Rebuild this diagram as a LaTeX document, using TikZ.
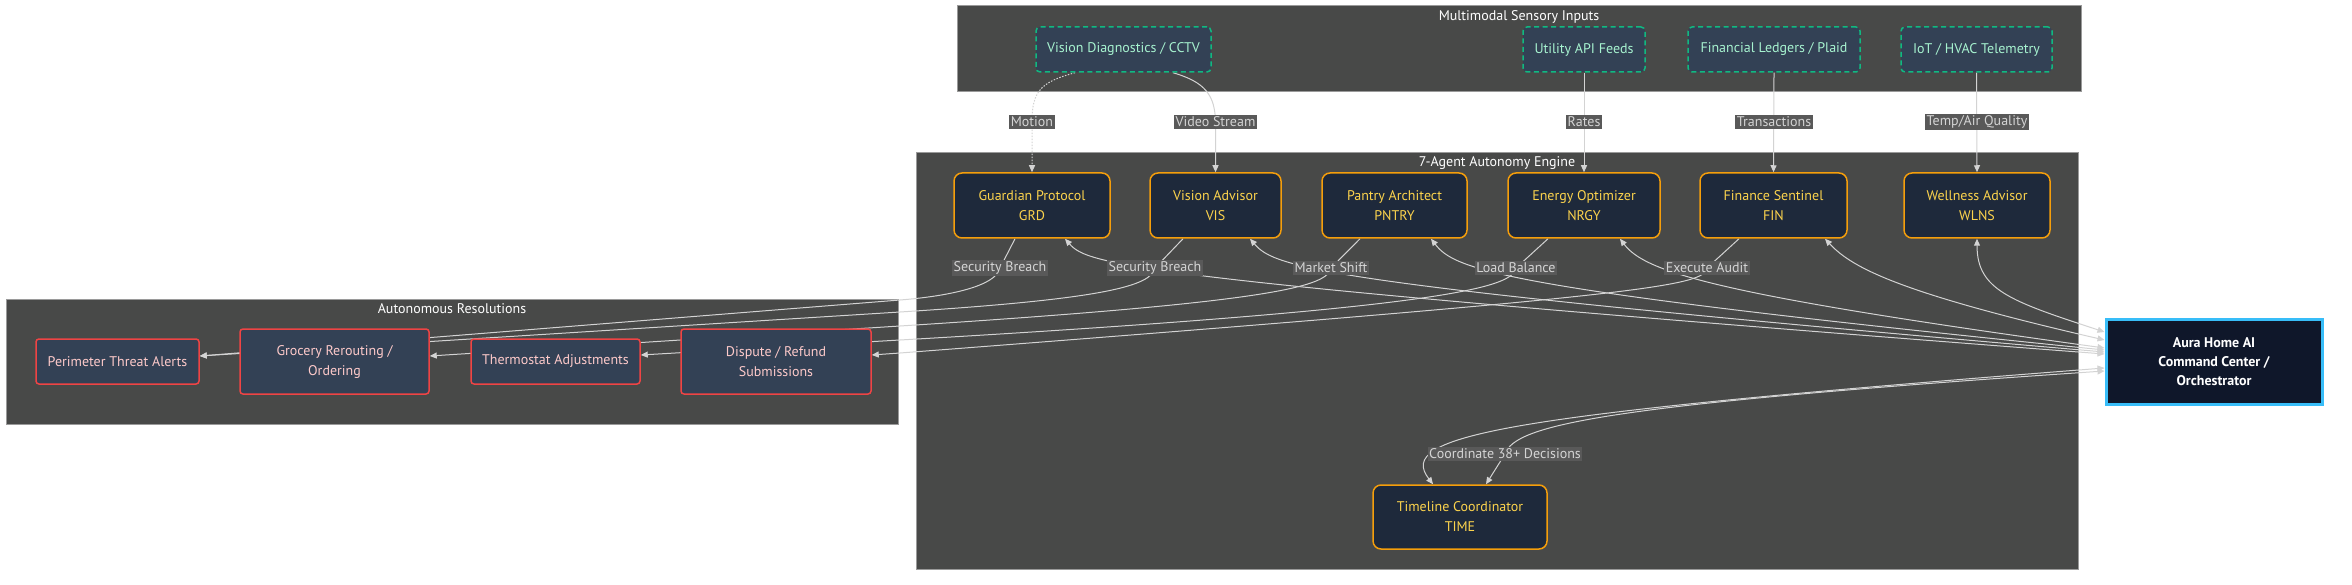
\documentclass[tikz,border=0pt]{standalone}
\usepackage{fontspec}
\setmainfont{PT Sans}
\usepackage{xcolor}
\usetikzlibrary{arrows.meta}

\definecolor{clfill}{HTML}{484948}
\definecolor{clline}{HTML}{9A9A9A}
\definecolor{snfill}{HTML}{334155}
\definecolor{snline}{HTML}{10B981}
\definecolor{sntext}{HTML}{A7F3D0}
\definecolor{agfill}{HTML}{1E293B}
\definecolor{agline}{HTML}{F59E0B}
\definecolor{agtext}{HTML}{FCD34D}
\definecolor{rsline}{HTML}{EF4444}
\definecolor{rstext}{HTML}{FECACA}
\definecolor{orfill}{HTML}{0F172A}
\definecolor{orline}{HTML}{38BDF8}
\definecolor{edgecol}{HTML}{D3D3D3}
\definecolor{lblfill}{HTML}{595959}
\definecolor{lbltext}{HTML}{D4D4D4}

\pgfdeclarelayer{back}
\pgfdeclarelayer{mid}
\pgfsetlayers{back,mid,main}

\begin{document}
\begin{tikzpicture}[x=1pt,y=-1pt,>={Triangle[length=7pt,width=6pt]},
  font=\fontsize{14}{20}\selectfont,
  cluster/.style={draw=clline,fill=clfill,line width=1pt,inner sep=0pt},
  ctitle/.style={text=white,inner sep=0pt},
  sensor/.style={draw=snline,fill=snfill,text=sntext,line width=1.5pt,
                 dash pattern=on 5pt off 3.5pt,rounded corners=4pt,
                 minimum height=45pt,inner sep=0pt},
  agent/.style={draw=agline,fill=agfill,text=agtext,line width=1.5pt,
                rounded corners=8pt,minimum height=65pt,align=center,inner sep=0pt},
  resol/.style={draw=rsline,fill=snfill,text=rstext,line width=1.5pt,
                rounded corners=3pt,align=center,inner sep=0pt},
  orchbox/.style={draw=orline,fill=orfill,text=white,line width=3pt,align=center,
                  font=\fontsize{14}{19}\selectfont\bfseries,inner sep=0pt},
  edge/.style={draw=edgecol,line width=1pt},
  dotedge/.style={dash pattern=on 1.5pt off 1.5pt},
  elab/.style={fill=lblfill,text=lbltext,inner sep=1.5pt}]

  \useasboundingbox (0,0) rectangle (2352,585);

  \begin{pgfonlayer}{back}
    \node[cluster,minimum width=1124pt,minimum height=86pt] (sens) at (1519,49) {};
    \node[cluster,minimum width=1162pt,minimum height=416pt] (engine) at (1497,361) {};
    \node[cluster,minimum width=892pt,minimum height=125pt] (resolv) at (452,361.5) {};
  \end{pgfonlayer}

  \node[ctitle] (senst) at (1519,17) {Multimodal Sensory Inputs};
  \node[ctitle] (enginet) at (1497,163) {7-Agent Autonomy Engine};
  \node[ctitle] (resolvt) at (452,309) {Autonomous Resolutions};

  \node[sensor,minimum width=175pt] (vcam) at (1123.5,49.5) {Vision Diagnostics / CCTV};
  \node[sensor,minimum width=122pt] (util) at (1584,49.5) {Utility API Feeds};
  \node[sensor,minimum width=172pt] (ledg) at (1774,49.5) {Financial Ledgers / Plaid};
  \node[sensor,minimum width=151pt] (iot) at (1976.5,49.5) {IoT / HVAC Telemetry};

  \node[agent,minimum width=156pt] (grd) at (1032,205.5) {Guardian Protocol\\GRD};
  \node[agent,minimum width=131pt] (vis) at (1215.5,205.5) {Vision Advisor\\VIS};
  \node[agent,minimum width=145pt] (pntry) at (1394.5,205.5) {Pantry Architect\\PNTRY};
  \node[agent,minimum width=152pt] (nrgy) at (1584,205.5) {Energy Optimizer\\NRGY};
  \node[agent,minimum width=147pt] (fin) at (1773.5,205.5) {Finance Sentinel\\FIN};
  \node[agent,minimum width=146pt] (wlns) at (1977,205.5) {Wellness Advisor\\WLNS};
  \node[agent,minimum width=174pt,minimum height=64pt] (time) at (1460,517) {Timeline Coordinator\\TIME};

  \node[orchbox,minimum width=216pt,minimum height=85pt] (orch) at (2214,361.5)
       {Aura Home AI\\Command Center /\\Orchestrator};

  \node[resol,minimum width=163pt,minimum height=45pt] (perim) at (117.5,361.5) {Perimeter Threat Alerts};
  \node[resol,minimum width=189pt,minimum height=65pt] (groc) at (334.5,361.5) {Grocery Rerouting /\\Ordering};
  \node[resol,minimum width=169pt,minimum height=45pt] (thermo) at (555.5,361.5) {Thermostat Adjustments};
  \node[resol,minimum width=190pt,minimum height=65pt] (disp) at (776,361.5) {Dispute / Refund\\Submissions};

  \node[elab] (lmot) at (1032,122) {Motion};
  \node[elab] (lvid) at (1215.5,122) {Video Stream};
  \node[elab] (lrat) at (1584,122) {Rates};
  \node[elab] (ltra) at (1774,122) {Transactions};
  \node[elab] (ltmp) at (1977,122) {Temp/Air Quality};
  \node[elab] (lsec) at (1000,268) {Security Breach};
  \node[elab] (lsec2) at (1155,268) {Security Breach};
  \node[elab] (lmkt) at (1331,268) {Market Shift};
  \node[elab] (lload) at (1516,268) {Load Balance};
  \node[elab] (laud) at (1707,268) {Execute Audit};
  \node[elab] (lcoord) at (1505,454) {Coordinate 38+ Decisions};

  \begin{pgfonlayer}{mid}
    \draw[edge,dotedge,->] ([xshift=-48.5pt]vcam.south) .. controls (1040,82) and (1032,92) ..
      (lmot.center) -- (grd.north);
    \draw[edge,->] ([xshift=49.5pt]vcam.south) .. controls (1205,82) and (1215,95) ..
      (lvid.center) -- (vis.north);
    \draw[edge,->] (util.south) -- (nrgy.north);
    \draw[edge,->] (ledg.south) -- (fin.north);
    \draw[edge,->] (iot.south) -- (wlns.north);

    \draw[edge,->] ([xshift=-17pt]grd.south) -- (lsec.center)
      .. controls (996,286) and (950,296) .. (900,300) -- ([yshift=5.5pt]perim.east);
    \draw[edge,->] ([xshift=-32.5pt]vis.south) -- (lsec2.center)
      .. controls (1151,286) and (1105,299) .. (900,312) -- ([yshift=5.5pt]perim.east);
    \draw[edge,->] ([xshift=-34.5pt]pntry.south) -- (lmkt.center)
      .. controls (1327,286) and (1281,301.7) .. (900,326) -- ([yshift=5.5pt]groc.east);
    \draw[edge,->] ([xshift=-36pt]nrgy.south) -- (lload.center)
      .. controls (1512,286) and (1466,307.3) .. (900,340) -- ([yshift=6.5pt]thermo.east);
    \draw[edge,->] ([xshift=-34.5pt]fin.south) -- (laud.center)
      .. controls (1703,286) and (1657,294.7) .. (900,353) -- ([yshift=6.5pt]disp.east);

    \draw[edge,<->] ([yshift=7.5pt]orch.west) .. controls (1130,279.5) and (1088,265) .. ([xshift=33pt]grd.south);
    \draw[edge,<->] ([yshift=9.5pt]orch.west) .. controls (1320,284.5) and (1275,268) .. ([xshift=34.5pt]vis.south);
    \draw[edge,<->] ([yshift=11.5pt]orch.west) .. controls (1500,289) and (1455,270) .. ([xshift=36.5pt]pntry.south);
    \draw[edge,<->] ([yshift=13.5pt]orch.west) .. controls (1715,294.6) and (1645,272) .. ([xshift=36pt]nrgy.south);
    \draw[edge,<->] ([yshift=21.5pt]orch.west) .. controls (1900,293) and (1852,268) .. ([xshift=51.5pt]fin.south);
    \draw[edge,<->] ([yshift=29.5pt]orch.west) .. controls (2010,301) and (1977,290) .. (wlns.south);

    \draw[edge,<->] ([yshift=-6.5pt]orch.west) .. controls (1500,415) and (1395,435) .. ([xshift=-27pt]time.north);
    \draw[edge,<->] ([yshift=-9.5pt]orch.west) .. controls (1600,405) and (1515,425) ..
      (lcoord.center) -- ([xshift=26pt]time.north);
  \end{pgfonlayer}
\end{tikzpicture}
\end{document}
